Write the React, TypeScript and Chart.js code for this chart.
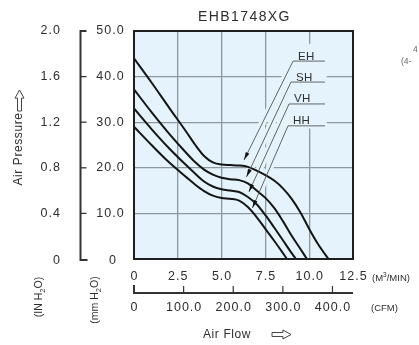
import React, { useEffect, useRef } from 'react';
import { Chart, registerables } from 'chart.js';

Chart.register(...registerables);

// ---------- data ----------
const seriesNames = ['EH', 'SH', 'VH', 'HH'];

const ehFlow = [0, 1, 2, 3, 3.5, 4, 4.5, 5, 5.5, 6, 6.5, 7, 7.5, 8, 8.5, 9, 9.5, 10, 10.5, 11.1];
const ehPress = [44, 38.7, 33.2, 27.8, 25.0, 22.6, 21.2, 20.7, 20.6, 20.5, 20.2, 19.4, 18.4, 17.2, 15.5, 13.2, 10.2, 6.6, 3.3, 0];

const shFlow = [0, 1, 2, 3, 3.5, 4, 4.5, 5, 5.5, 6, 6.5, 7, 7.5, 8, 8.5, 9, 9.5, 9.87];
const shPress = [37.2, 32.2, 27.5, 23.2, 21.2, 19.6, 18.5, 17.8, 17.5, 17.3, 16.6, 15.0, 13.4, 11.2, 8.3, 5.1, 2.2, 0];

const vhFlow = [0, 1, 2, 3, 3.5, 4, 4.5, 5, 5.5, 6, 6.5, 7, 7.5, 8, 8.5, 9, 9.25];
const vhPress = [33.0, 28.5, 24.3, 20.5, 18.7, 17.0, 15.9, 15.3, 15.0, 14.7, 13.6, 12.0, 9.6, 6.9, 4.1, 1.3, 0];

const hhFlow = [0, 1, 2, 3, 3.5, 4, 4.5, 5, 5.5, 6, 6.5, 7, 7.5, 8, 8.5, 8.73];
const hhPress = [29.0, 25.0, 21.2, 17.9, 16.3, 14.9, 13.9, 13.4, 13.2, 12.8, 11.4, 9.2, 6.6, 4.0, 1.3, 0];

const flowTickValues = [0, 2.5, 5.0, 7.5, 10.0, 12.5];
const flowTickLabels = ['0', '2.5', '5.0', '7.5', '10.0', '12.5'];
const mmTickValues = [0, 10, 20, 30, 40, 50];
const mmTickLabels = ['0', '10.0', '20.0', '30.0', '40.0', '50.0'];
const inTickValues = [0, 0.4, 0.8, 1.2, 1.6, 2.0];
const inTickLabels = ['0', '0.4', '0.8', '1.2', '1.6', '2.0'];
const cfmTickValues = [0, 100, 200, 300, 400];
const cfmTickLabels = ['0', '100.0', '200.0', '300.0', '400.0'];

const CFM_PER_M3MIN = 35.31;
const MM_PER_IN_AXIS = 25; // axis alignment used in the drawing

// label leader geometry (data units)
const leaders = [
  { name: 'EH', lx: 9.08, ly: 43.4, tx: 6.28, ty: 21.7 },
  { name: 'SH', lx: 8.96, ly: 38.8, tx: 6.42, ty: 18.0 },
  { name: 'VH', lx: 8.85, ly: 34.0, tx: 6.56, ty: 14.7 },
  { name: 'HH', lx: 8.79, ly: 29.2, tx: 6.76, ty: 11.2 },
];

// ---------- styles ----------
const FONT = "'Liberation Sans', Arial, sans-serif";
const PLOT_BG = '#e4f3fc';
const TEXT = '#2e2e2e';

function zip(xs: number[], ys: number[]) {
  return xs.map((x, i) => ({ x, y: ys[i] }));
}

function segText(ctx: any, segs: any[], x: number, y: number, rot: boolean, align: string) {
  ctx.save();
  ctx.translate(x, y);
  if (rot) ctx.rotate(-Math.PI / 2);
  ctx.letterSpacing = '0px';
  let total = 0;
  const widths = segs.map((s) => {
    ctx.font = s.font;
    const w = ctx.measureText(s.t).width;
    total += w;
    return w;
  });
  let cx = align === 'center' ? -total / 2 : 0;
  ctx.textAlign = 'left';
  ctx.textBaseline = 'alphabetic';
  segs.forEach((s, i) => {
    ctx.font = s.font;
    ctx.fillText(s.t, cx, s.dy || 0);
    cx += widths[i];
  });
  ctx.restore();
}

function hollowArrow(ctx: any, x: number, y: number, len: number, h: number, angle: number) {
  ctx.save();
  ctx.translate(x, y);
  ctx.rotate(angle);
  const head = h * 0.9;
  const sh = h * 0.22;
  ctx.beginPath();
  ctx.moveTo(0, -sh);
  ctx.lineTo(len - head, -sh);
  ctx.lineTo(len - head, -h / 2);
  ctx.lineTo(len, 0);
  ctx.lineTo(len - head, h / 2);
  ctx.lineTo(len - head, sh);
  ctx.lineTo(0, sh);
  ctx.closePath();
  ctx.strokeStyle = '#444';
  ctx.lineWidth = 1;
  ctx.stroke();
  ctx.restore();
}

const decorPlugin = {
  id: 'decor',
  beforeDraw(chart: any) {
    const { ctx, chartArea: a } = chart;
    ctx.save();
    ctx.fillStyle = '#ffffff';
    ctx.fillRect(0, 0, chart.width, chart.height);
    ctx.fillStyle = PLOT_BG;
    ctx.fillRect(a.left, a.top, a.right - a.left, a.bottom - a.top);
    ctx.restore();
  },
  beforeDatasetsDraw(chart: any) {
    const { ctx, scales } = chart;
    const xs = scales.x, ys = scales.y;
    ctx.save();
    // label box covering grid
    const boxL = xs.getPixelForValue(8.5);
    const boxR = xs.getPixelForValue(11.0);
    const boxT = ys.getPixelForValue(47.2);
    const boxB = ys.getPixelForValue(28.6);
    ctx.fillStyle = PLOT_BG;
    ctx.fillRect(boxL, boxT, boxR - boxL, boxB - boxT);
    // halos of leaders
    ctx.strokeStyle = PLOT_BG;
    ctx.lineWidth = 7;
    leaders.forEach((l) => {
      ctx.beginPath();
      ctx.moveTo(xs.getPixelForValue(l.lx), ys.getPixelForValue(l.ly));
      ctx.lineTo(xs.getPixelForValue(l.tx), ys.getPixelForValue(l.ty));
      ctx.stroke();
    });
    ctx.restore();
  },
  afterDatasetsDraw(chart: any) {
    const { ctx, scales, chartArea: a } = chart;
    const xs = scales.x, ys = scales.y;
    ctx.save();
    // leaders + arrows + labels
    leaders.forEach((l) => {
      const x0 = xs.getPixelForValue(l.lx), y0 = ys.getPixelForValue(l.ly);
      const x1 = xs.getPixelForValue(l.tx), y1 = ys.getPixelForValue(l.ty);
      const xr = xs.getPixelForValue(10.9);
      ctx.strokeStyle = '#555';
      ctx.lineWidth = 0.9;
      ctx.beginPath();
      ctx.moveTo(xr, y0);
      ctx.lineTo(x0, y0);
      ctx.lineTo(x1, y1);
      ctx.stroke();
      // arrow head
      const ang = Math.atan2(y1 - y0, x1 - x0);
      ctx.save();
      ctx.translate(x1, y1);
      ctx.rotate(ang);
      ctx.fillStyle = '#111';
      ctx.beginPath();
      ctx.moveTo(0, 0);
      ctx.lineTo(-8, -2);
      ctx.lineTo(-8, 2);
      ctx.closePath();
      ctx.fill();
      ctx.restore();
      ctx.fillStyle = TEXT;
      ctx.font = `11.5px ${FONT}`;
      ctx.letterSpacing = '0.3px';
      ctx.textAlign = 'left';
      ctx.textBaseline = 'alphabetic';
      ctx.fillText(l.name, x0 + 5, y0 - 1.5);
    });
    // frame
    ctx.strokeStyle = '#1f1f1f';
    ctx.lineWidth = 2;
    ctx.strokeRect(a.left, a.top, a.right - a.left, a.bottom - a.top);
    ctx.restore();
  },
  afterDraw(chart: any) {
    const { ctx, scales, chartArea: a } = chart;
    const xs = scales.x, ys = scales.y;
    ctx.save();
    ctx.fillStyle = TEXT;
    // title
    ctx.font = `14px ${FONT}`;
    ctx.letterSpacing = '1.4px';
    ctx.textAlign = 'center';
    ctx.textBaseline = 'middle';
    ctx.fillText('EHB1748XG', (a.left + a.right) / 2 + 1, 17);

    // left bracket axis
    const bx = 80.5;
    ctx.strokeStyle = '#333';
    ctx.lineWidth = 2;
    ctx.beginPath();
    ctx.moveTo(bx + 6, a.top);
    ctx.lineTo(bx, a.top);
    ctx.lineTo(bx, a.bottom + 1);
    ctx.lineTo(bx + 7, a.bottom + 1);
    ctx.stroke();
    ctx.lineWidth = 1.3;
    mmTickValues.forEach((v) => {
      if (v === 0 || v === 50) return;
      const y = ys.getPixelForValue(v);
      ctx.beginPath();
      ctx.moveTo(bx, y);
      ctx.lineTo(bx + 6, y);
      ctx.stroke();
    });

    // left tick labels
    ctx.font = `12.5px ${FONT}`;
    ctx.letterSpacing = '1px';
    ctx.textBaseline = 'middle';
    ctx.textAlign = 'center';
    mmTickValues.forEach((v, i) => {
      const y = ys.getPixelForValue(v) + (v === 0 ? 2 : 0);
      ctx.fillText(mmTickLabels[i], v === 0 ? 113 : 110.5, y);
    });
    ctx.textAlign = 'right';
    inTickValues.forEach((v, i) => {
      const y = ys.getPixelForValue(v * MM_PER_IN_AXIS) + (v === 0 ? 2 : 0);
      ctx.fillText(inTickLabels[i], 61, y);
    });

    // bottom flow labels
    ctx.textAlign = 'center';
    flowTickValues.forEach((v, i) => {
      ctx.fillText(flowTickLabels[i], xs.getPixelForValue(v) + 0.5, 277);
    });
    segText(ctx, [
      { t: '(M', font: `9.5px ${FONT}` },
      { t: '3', font: `6.5px ${FONT}`, dy: -4 },
      { t: '/MIN)', font: `9.5px ${FONT}` },
    ], 372, 280.5, false, 'left');

    // CFM axis
    const cy = 293;
    ctx.strokeStyle = '#333';
    ctx.lineWidth = 2;
    ctx.beginPath();
    ctx.moveTo(a.left, cy - 8);
    ctx.lineTo(a.left, cy);
    ctx.lineTo(a.right, cy);
    ctx.stroke();
    ctx.lineWidth = 1.2;
    cfmTickValues.forEach((v) => {
      if (v === 0) return;
      const x = xs.getPixelForValue(v / CFM_PER_M3MIN);
      ctx.beginPath();
      ctx.moveTo(x, cy - 7);
      ctx.lineTo(x, cy);
      ctx.stroke();
    });
    ctx.font = `12.5px ${FONT}`;
    ctx.letterSpacing = '1px';
    ctx.textAlign = 'center';
    ctx.textBaseline = 'middle';
    cfmTickValues.forEach((v, i) => {
      ctx.fillText(cfmTickLabels[i], xs.getPixelForValue(v / CFM_PER_M3MIN) + 0.5, 308);
    });
    ctx.font = `9.5px ${FONT}`;
    ctx.letterSpacing = '0px';
    ctx.textAlign = 'left';
    ctx.fillText('(CFM)', 371, 308);

    // Air Flow title
    ctx.font = `12px ${FONT}`;
    ctx.letterSpacing = '0.6px';
    ctx.textAlign = 'left';
    ctx.fillText('Air Flow', 203, 334.5);
    hollowArrow(ctx, 272, 334.5, 19, 9, 0);

    // Air Pressure title (rotated)
    ctx.save();
    ctx.translate(19, 149);
    ctx.rotate(-Math.PI / 2);
    ctx.font = `12px ${FONT}`;
    ctx.letterSpacing = '0.6px';
    ctx.textAlign = 'center';
    ctx.textBaseline = 'middle';
    ctx.fillText('Air Pressure', 0, 0);
    ctx.restore();
    hollowArrow(ctx, 19.5, 111, 21, 9, -Math.PI / 2);

    // unit labels rotated
    segText(ctx, [
      { t: '(IN H', font: `10.5px ${FONT}` },
      { t: '2', font: `7.5px ${FONT}`, dy: 2.5 },
      { t: 'O)', font: `10.5px ${FONT}` },
    ], 42, 297, true, 'center');
    segText(ctx, [
      { t: '(mm H', font: `10.5px ${FONT}` },
      { t: '2', font: `7.5px ${FONT}`, dy: 2.5 },
      { t: 'O)', font: `10.5px ${FONT}` },
    ], 98, 300, true, 'center');

    // neighbouring fragments at right edge
    ctx.fillStyle = '#666';
    ctx.font = `8.5px ${FONT}`;
    ctx.letterSpacing = '0px';
    ctx.textAlign = 'left';
    ctx.textBaseline = 'middle';
    ctx.fillText('4', 413, 50);
    ctx.fillText('(4-', 401, 62);
    ctx.restore();
  },
};

export default function App() {
  const ref = useRef<HTMLCanvasElement | null>(null);
  useEffect(() => {
    if (!ref.current) return;
    const flows = [ehFlow, shFlow, vhFlow, hhFlow];
    const presses = [ehPress, shPress, vhPress, hhPress];
    const chart = new Chart(ref.current, {
      type: 'scatter',
      data: {
        datasets: seriesNames.map((name, i) => ({
          label: name,
          data: zip(flows[i], presses[i]),
          showLine: true,
          borderColor: '#151515',
          borderWidth: 2,
          pointRadius: 0,
          cubicInterpolationMode: 'monotone' as const,
        })),
      },
      options: {
        responsive: false,
        animation: false,
        devicePixelRatio: 1,
        layout: { padding: { left: 134, right: 66, top: 31, bottom: 86 } },
        plugins: { legend: { display: false }, tooltip: { enabled: false }, title: { display: false } },
        scales: {
          x: {
            type: 'linear',
            min: 0,
            max: 12.5,
            ticks: { display: false, stepSize: 2.5 },
            grid: { color: '#8f989e', lineWidth: 1.3, drawTicks: false },
            border: { display: false },
          },
          y: {
            type: 'linear',
            min: 0,
            max: 50,
            ticks: { display: false, stepSize: 10 },
            grid: { color: '#8f989e', lineWidth: 1.3, drawTicks: false },
            border: { display: false },
          },
        },
      },
      plugins: [decorPlugin],
    });
    return () => chart.destroy();
  }, []);
  return (
    <div style={{ position: 'fixed', left: 0, top: 0, width: 419, height: 345, background: '#fff' }}>
      <canvas ref={ref} width={419} height={345} style={{ width: 419, height: 345, display: 'block' }} />
    </div>
  );
}
